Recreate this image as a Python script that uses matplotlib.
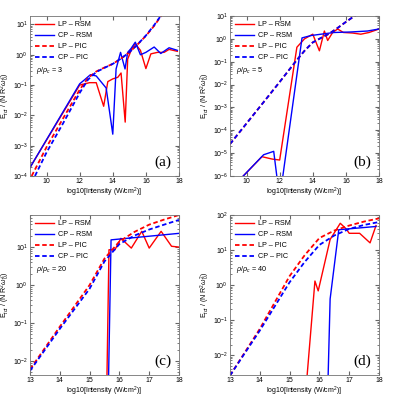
import numpy as np
import matplotlib
matplotlib.use("Agg")
import matplotlib.pyplot as plt
from matplotlib.ticker import LogLocator, NullFormatter

plt.rcParams['font.family'] = ['Liberation Sans', 'DejaVu Sans']
plt.rcParams['mathtext.fontset'] = 'custom'
plt.rcParams['mathtext.rm'] = 'Liberation Sans'
plt.rcParams['mathtext.it'] = 'Liberation Sans:italic'

# ---- панель (a): rho/rho_c = 3 ----
a_lp_rsm_x = [9.0, 12.0, 12.6, 13.0, 13.45, 13.7, 14.0, 14.3, 14.5, 14.75, 14.9, 15.15, 15.36,
              15.67, 16.0, 16.3, 16.7, 17.1, 17.4, 17.9]
a_lp_rsm_y = [1.9e-4, 0.10, 0.12, 0.12, 0.02, 0.13, 0.16, 0.18, 0.25, 0.006, 0.72, 1.6, 2.3,
              1.4, 0.35, 1.07, 1.2, 1.2, 1.5, 1.3]
a_cp_rsm_x = [9.0, 12.0, 12.3, 12.65, 13.0, 13.6, 14.0, 14.2, 14.47, 14.74, 14.9, 15.1, 15.36,
              15.67, 16.0, 16.5, 16.9, 17.4, 17.9]
a_cp_rsm_y = [1.9e-4, 0.11, 0.15, 0.22, 0.2, 0.08, 0.0024, 0.34, 1.2, 0.34, 1.2, 1.6, 2.6,
              1.0, 1.2, 1.8, 1.1, 1.7, 1.4]
a_lp_pic_x = [9.1, 10, 11, 12, 12.5, 13, 13.5, 14, 14.5, 15, 15.5, 16, 16.5, 17]
a_lp_pic_y = [1e-4, 9e-4, 8e-3, 0.07, 0.17, 0.28, 0.38, 0.5, 0.75, 1.2, 2.2, 4.2, 9, 22]
a_cp_pic_x = [9.3, 10, 11, 12, 12.5, 13, 13.5, 14, 14.5, 15, 15.5, 16, 16.5, 17]
a_cp_pic_y = [1e-4, 6e-4, 5.5e-3, 0.055, 0.15, 0.27, 0.37, 0.5, 0.75, 1.2, 2.2, 4.3, 9.5, 23]

# ---- панель (b): rho/rho_c = 5 ----
b_lp_rsm_x = [9.8, 10.93, 11.55, 12.0, 13.04, 13.5, 14.0, 14.4, 14.7, 14.9, 15.2, 15.5, 15.85,
              16.4, 16.9, 17.4, 18.0]
b_lp_rsm_y = [1e-6, 7e-6, 5.5e-6, 5e-6, 0.43, 1.0, 1.6, 0.3, 2.2, 0.85, 1.9, 2.7, 1.9,
              1.8, 1.6, 1.9, 2.7]
b_cp_rsm_x = [9.8, 11.03, 11.64, 12.0, 13.35, 13.9, 14.5, 15.3, 16.3, 17.3, 18.0]
b_cp_rsm_y = [1e-6, 8.5e-6, 1.2e-5, 1e-7, 1.1, 1.4, 1.6, 1.9, 2.0, 2.2, 2.7]
b_pic_x = [9, 10, 11, 12, 13, 13.5, 14, 14.5, 15, 15.5, 16, 16.6]
b_lp_pic_y = [2.5e-5, 2e-4, 1.6e-3, 1.3e-2, 0.11, 0.3, 0.7, 1.1, 1.7, 3.0, 5.5, 11]
b_cp_pic_y = [2.5e-5, 2e-4, 1.6e-3, 1.3e-2, 0.11, 0.3, 0.7, 1.1, 1.7, 3.0, 5.5, 11]

# ---- панель (c): rho/rho_c = 20 ----
c_lp_rsm_x = [15.55, 15.65, 15.85, 16.05, 16.4, 16.75, 17.0, 17.4, 17.75, 18.0]
c_lp_rsm_y = [1e-4, 8.5, 8.5, 17, 9.4, 26, 9.4, 26, 10.5, 10]
c_cp_rsm_x = [15.6, 15.72, 18.0]
c_cp_rsm_y = [1e-4, 15.5, 23]
c_pic_x = [13, 14, 15, 15.5, 16, 16.5, 17, 17.5, 18]
c_lp_pic_y = [0.006, 0.08, 1.0, 5, 14, 25, 39, 53, 70]
c_cp_pic_y = [0.0055, 0.07, 0.8, 4.2, 12, 20, 29, 39, 52]

# ---- панель (d): rho/rho_c = 40 ----
d_lp_rsm_x = [15.45, 15.85, 15.96, 16.36, 16.7, 16.9, 17.0, 17.35, 17.7, 17.9]
d_lp_rsm_y = [1e-4, 1.3, 0.68, 20, 58, 40, 30, 30, 16, 50]
d_cp_rsm_x = [16.25, 16.36, 16.65, 17.9]
d_cp_rsm_y = [1e-4, 0.4, 38, 47]
d_pic_x = [13, 14, 15, 15.5, 16, 16.5, 17, 17.5, 18]
d_lp_pic_y = [0.0026, 0.056, 1.8, 7, 22, 36, 50, 65, 80]
d_cp_pic_y = [0.0026, 0.05, 1.2, 4.5, 14, 26, 40, 52, 63]

panels = [
    ("(a)", 3, (9, 18), (1e-4, 19), [10, 12, 14, 16, 18],
     a_lp_rsm_x, a_lp_rsm_y, a_cp_rsm_x, a_cp_rsm_y, a_lp_pic_x, a_lp_pic_y, a_cp_pic_x, a_cp_pic_y),
    ("(b)", 5, (9, 18), (1e-6, 10), [10, 12, 14, 16, 18],
     b_lp_rsm_x, b_lp_rsm_y, b_cp_rsm_x, b_cp_rsm_y, b_pic_x, b_lp_pic_y, b_pic_x, b_cp_pic_y),
    ("(c)", 20, (13, 18), (10**-2.37, 70), [13, 14, 15, 16, 17, 18],
     c_lp_rsm_x, c_lp_rsm_y, c_cp_rsm_x, c_cp_rsm_y, c_pic_x, c_lp_pic_y, c_pic_x, c_cp_pic_y),
    ("(d)", 40, (13, 18), (10**-2.57, 100), [13, 14, 15, 16, 17, 18],
     d_lp_rsm_x, d_lp_rsm_y, d_cp_rsm_x, d_cp_rsm_y, d_pic_x, d_lp_pic_y, d_pic_x, d_cp_pic_y),
]

rects = [(30, 16), (230, 16), (30, 215), (230, 215)]

fig = plt.figure(figsize=(3.99, 3.99), dpi=100)

for (letter, rho, xl, yl, xt, lx, ly, cx, cy, plx, ply, pcx, pcy), (px, py) in zip(panels, rects):
    ax = fig.add_axes([px / 399, 1 - (py + 160) / 399, 149 / 399, 160 / 399])
    ax.plot(lx, ly, color='r', lw=1.0, label='LP – RSM')
    ax.plot(cx, cy, color='b', lw=1.0, label='CP – RSM')
    ax.plot(plx, ply, color='r', lw=1.3, ls=(0, (2.5, 1.5)), label='LP – PIC')
    ax.plot(pcx, pcy, color='b', lw=1.3, ls=(0, (2.5, 1.5)), label='CP – PIC')
    ax.set_yscale('log')
    ax.set_xlim(xl)
    ax.set_ylim(yl)
    ax.set_xticks(xt)
    ax.yaxis.set_major_locator(LogLocator(base=10, numticks=20))
    ax.yaxis.set_minor_locator(LogLocator(base=10, subs=np.arange(2, 10), numticks=20))
    ax.yaxis.set_minor_formatter(NullFormatter())
    ax.tick_params(which='both', direction='in', top=True, right=True, labelsize=5,
                   color='0.4', pad=1.5)
    ax.tick_params(which='major', length=3)
    ax.tick_params(which='minor', length=1.5)
    for s in ax.spines.values():
        s.set_color('0.45')
        s.set_linewidth(0.6)
    ax.set_xlabel('log10[Intensity (W/cm$^2$)]', fontsize=5, labelpad=0.5)
    ax.set_ylabel(r'E$_{tot}$ / (N R$^2\omega_0^2$)', fontsize=5, labelpad=0.5)
    ax.legend(loc='upper left', frameon=False, fontsize=5.2, handlelength=2.6,
              labelspacing=0.55, borderaxespad=0.3, handletextpad=0.6)
    ax.text(0.04, 0.66, r'$\rho/\rho_c$ = %d' % rho, transform=ax.transAxes,
            fontsize=5.2, va='center')
    ax.text(0.89, 0.085, letter, transform=ax.transAxes, fontsize=11,
            family='Liberation Serif', ha='center', va='center')

fig.savefig('out.png', dpi=100)
